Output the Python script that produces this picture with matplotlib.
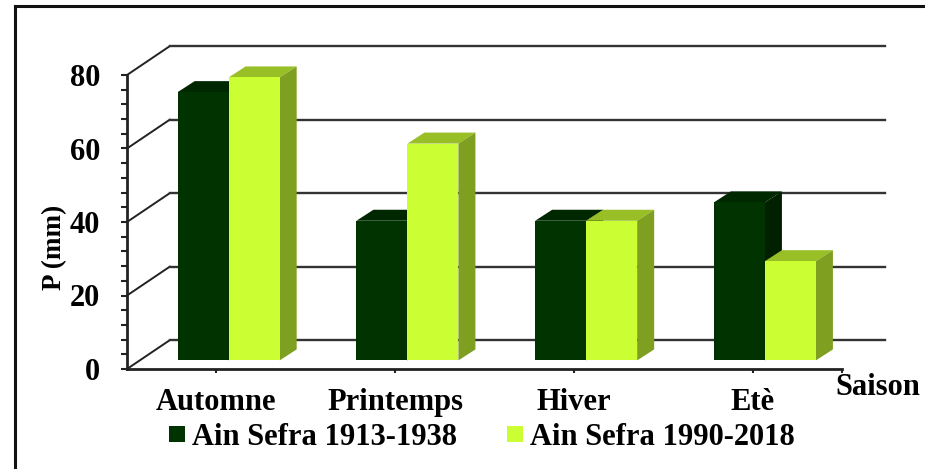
import matplotlib
matplotlib.use("Agg")
import matplotlib.pyplot as plt
from matplotlib.lines import Line2D
from matplotlib.patches import Patch, Polygon

categories = ["Automne", "Printemps", "Hiver", "Etè"]
series_names = ["Ain Sefra 1913-1938", "Ain Sefra 1990-2018"]
values_old = [73, 38, 38, 43]
values_new = [77, 59, 38, 27]
y_ticks = [0, 20, 40, 60, 80]

W, H = 925, 469
plt.rcParams["font.family"] = ["Liberation Serif", "DejaVu Serif"]
plt.rcParams["font.weight"] = "bold"
fig = plt.figure(figsize=(W / 100, H / 100), dpi=100, facecolor="white")

# plot box in pixels
L, R, T, B = 127, 842, 75, 369
ax = fig.add_axes([L / W, 1 - B / H, (R - L) / W, (B - T) / H])
ax.set_xlim(-0.5, 3.5)
ax.set_ylim(0, 80)
ax.patch.set_alpha(0)
for s in ("top", "right"):
    ax.spines[s].set_visible(False)
for s in ("left", "bottom"):
    ax.spines[s].set_linewidth(2.0)
    ax.spines[s].set_color("#222222")

px_x = 4 / (R - L)
px_y = 80 / (B - T)
wall_dx, wall_dy = 43 * px_x, 29 * px_y
base_dx, base_dy = 12.3 * px_x, 8.6 * px_y
bar_dx, bar_dy = 17 * px_x, 11 * px_y
bar_w = 51 * px_x

# back wall grid and floor/wall diagonals
for v in y_ticks:
    ax.plot([-0.5, -0.5 + wall_dx], [v, v + wall_dy], color="#222222", lw=1.4,
            zorder=1, clip_on=False, solid_capstyle="round")
    ax.plot([-0.5 + wall_dx, 3.5 + wall_dx], [v + wall_dy, v + wall_dy], color="#333333",
            lw=1.7, zorder=1, clip_on=False)


def draw_bar(x0, v, front, top, side, z):
    y0 = base_dy
    ax.bar(x0 + base_dx, v, width=bar_w, bottom=y0, align="edge", color=front,
           linewidth=0, zorder=z + 0.2, clip_on=False)
    x = x0 + base_dx
    y = y0 + v
    ax.add_patch(Polygon([(x, y), (x + bar_dx, y + bar_dy), (x + bar_w + bar_dx, y + bar_dy),
                          (x + bar_w, y)], closed=True, fc=top, ec="none", zorder=z, clip_on=False))
    ax.add_patch(Polygon([(x + bar_w, y0), (x + bar_w + bar_dx, y0 + bar_dy),
                          (x + bar_w + bar_dx, y + bar_dy), (x + bar_w, y)], closed=True,
                         fc=side, ec="none", zorder=z, clip_on=False))


DARK = ("#003300", "#002800", "#002000")
LIGHT = ("#CCFF33", "#99BF26", "#7F9F20")
for i in range(len(categories)):
    draw_bar(i - bar_w, values_old[i], *DARK, z=3 + i)
    draw_bar(i, values_new[i], *LIGHT, z=3.5 + i)

ax.set_yticks(y_ticks)
ax.set_yticks(range(0, 81, 4), minor=True)
ax.tick_params(axis="y", which="both", direction="out", length=4.5, width=1.5, color="#222222")
ax.tick_params(axis="y", which="major", labelsize=22, pad=15)
ax.set_xticks(range(len(categories)), categories)
ax.set_xticks([3.5], minor=True)
ax.tick_params(axis="x", which="both", direction="out", length=3, width=1.5, color="#222222")
ax.tick_params(axis="x", which="major", labelsize=22, pad=10.5)

fig.text(55 / W, 1 - 247 / H, "P (mm)", rotation=90, fontsize=19.5, ha="center", va="center")
fig.text(835 / W, 1 - 387 / H, "Saison", fontsize=22, ha="left", va="center")

handles = [Patch(facecolor=DARK[0], label=series_names[0]),
           Patch(facecolor=LIGHT[0], label=series_names[1])]
fig.legend(handles=handles, ncol=2, loc="center", bbox_to_anchor=(482 / W, 1 - 437.5 / H),
           frameon=False, fontsize=22, handlelength=0.52, handleheight=0.46, handletextpad=0.23,
           columnspacing=1.64, borderpad=0, borderaxespad=0)

# outer frame: only the left and top edges are visible
fig.add_artist(Line2D([15 / W, 15 / W], [0, 1 - 6 / H], color="#111111", lw=2.2))
fig.add_artist(Line2D([15 / W, 1], [1 - 6 / H, 1 - 6 / H], color="#111111", lw=2.2))

fig.savefig("out.png", dpi=100)
